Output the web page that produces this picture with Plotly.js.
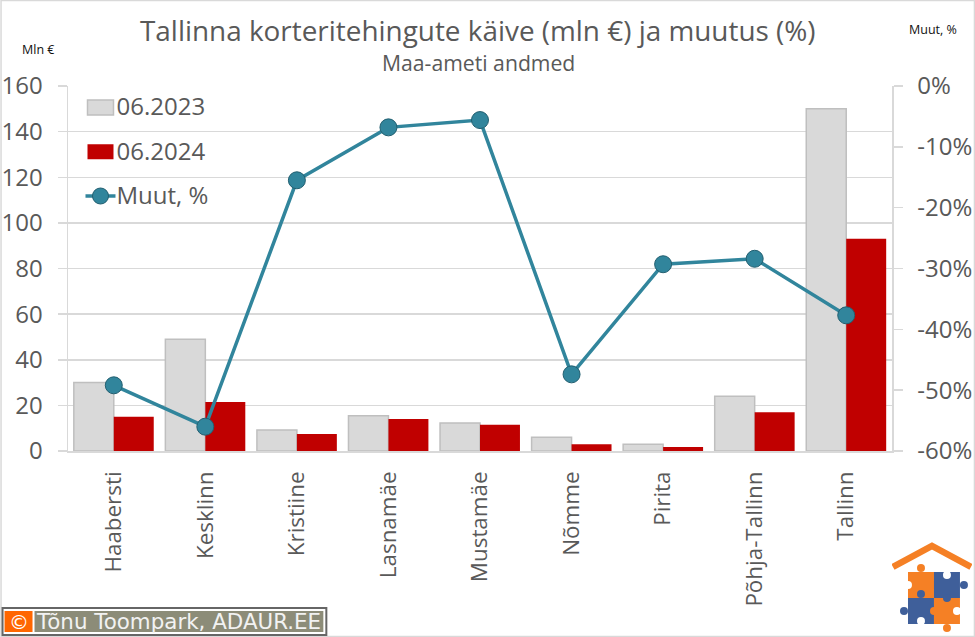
<!DOCTYPE html>
<html><head><meta charset="utf-8">
<script src="https://cdn.plot.ly/plotly-3.0.1.min.js"></script>
<style>html,body{margin:0;padding:0;background:#fff}#c{width:975px;height:637px}</style></head>
<body><div id="c"></div>
<script>
const categories = ["Haabersti","Kesklinn","Kristiine","Lasnamäe","Mustamäe","Nõmme","Pirita","Põhja-Tallinn","Tallinn"];
const turnover2023 = [30,49,9.2,15.5,12.3,6,3,24,150];
const turnover2024 = [15,21.5,7.5,14,11.5,3,1.8,17,93];
const changePct = [-49.2,-56,-15.5,-6.8,-5.6,-47.4,-29.3,-28.4,-37.7];
const leftTicks = [0,20,40,60,80,100,120,140,160];
const rightTicks = [0,-10,-20,-30,-40,-50,-60];
const rightTickLabels = ["0%","-10%","-20%","-30%","-40%","-50%","-60%"];

const TXT="#595959", GRID="#D9D9D9", TEAL="#31859C";
const FONT='"Open Sans", "Noto Sans", sans-serif';
const L=67.5,R=892,T=86,B=451;
const px=(x)=>(x-L)/(R-L), py=(y)=>(B-y)/(B-T);
const note=(x,y,text,size,color,family)=>({xref:"paper",yref:"paper",x:px(x),y:py(y),xanchor:"center",yanchor:"middle",text,showarrow:false,font:{size,color,family:family||FONT}});

const logoSvg=`<svg xmlns="http://www.w3.org/2000/svg" width="80" height="95" viewBox="0 0 80 95">
<path d="M1 25 L40 4 L79 25" fill="none" stroke="#F58025" stroke-width="6.5"/>
<rect x="16" y="30" width="26" height="26" fill="#F58025"/><circle cx="29" cy="26" r="4" fill="#F58025"/><circle cx="42" cy="43" r="4" fill="#F58025"/><circle cx="16" cy="43" r="4" fill="#fff"/>
<rect x="42" y="30" width="26" height="26" fill="#3F5F9A"/><circle cx="72" cy="43" r="4" fill="#3F5F9A"/><circle cx="55" cy="33" r="4" fill="#fff"/>
<rect x="16" y="56" width="26" height="26" fill="#3F5F9A"/><circle cx="12" cy="69" r="4" fill="#3F5F9A"/><circle cx="29" cy="52" r="4" fill="#3F5F9A"/><circle cx="29" cy="79" r="4" fill="#fff"/>
<rect x="42" y="56" width="26" height="26" fill="#F58025"/><circle cx="55" cy="86" r="4" fill="#F58025"/><circle cx="42" cy="69" r="4" fill="#F58025"/><circle cx="55" cy="56" r="4" fill="#3F5F9A"/><circle cx="65" cy="69" r="4" fill="#fff"/>
</svg>`;

const traces=[
 {type:"bar",name:"06.2023",x:categories,y:turnover2023,marker:{color:"#D9D9D9",line:{color:"#BFBFBF",width:1.5}},legendgroup:"a"},
 {type:"bar",name:"06.2024",x:categories,y:turnover2024,marker:{color:"#C00000"},legendgroup:"b"},
 {type:"scatter",mode:"lines+markers",name:"Muut, %",x:categories,y:changePct,yaxis:"y2",legendgroup:"c",
  line:{color:TEAL,width:3.5},marker:{color:TEAL,size:17,line:{color:"#235F70",width:1}}}
];
const layout={
 width:975,height:637,paper_bgcolor:"#fff",plot_bgcolor:"#fff",
 margin:{l:L,r:975-R,t:T,b:637-B},
 font:{family:FONT,color:TXT},
 barmode:"group",bargap:0.127,bargroupgap:0,
 showlegend:true,
 legend:{x:px(76),y:py(84),xanchor:"left",yanchor:"top",bgcolor:"rgba(0,0,0,0)",font:{size:24,color:TXT},tracegroupgap:10,itemwidth:30,traceorder:"grouped"},
 xaxis:{type:"category",range:[-0.5,8.5],categoryorder:"array",categoryarray:categories,tickangle:-90,tickfont:{size:22.4,color:TXT},ticks:"",ticklabelstandoff:10,showline:true,linecolor:GRID,linewidth:1.5,showgrid:false,automargin:false},
 yaxis:{range:[0,160],tickvals:leftTicks,tickfont:{size:24,color:TXT},ticklabelstandoff:10,gridcolor:GRID,gridwidth:1.5,showline:true,linecolor:GRID,linewidth:1.5,ticks:"outside",ticklen:9,tickcolor:GRID,tickwidth:1.5,zeroline:false,automargin:false},
 yaxis2:{overlaying:"y",side:"right",range:[-60,0],tickvals:rightTicks,ticktext:rightTickLabels,tickfont:{size:24,color:TXT},ticklabelstandoff:10,showgrid:false,showline:true,linecolor:GRID,linewidth:1.5,ticks:"outside",ticklen:9,tickcolor:GRID,tickwidth:1.5,zeroline:false,automargin:false},
 annotations:[
  note(478,30,"Tallinna korteritehingute käive (mln €) ja muutus (%)",27.9,TXT),
  note(478,63,"Maa-ameti andmed",21.2,TXT),
  note(37,49,"Mln €",12.5,"#111"),
  note(933,30,"Muut, %",12.5,"#111"),
  note(18,621.5,"©",20,"#fff","DejaVu Sans"),
  note(178,621.5,"Tõnu Toompark, ADAUR.EE",21.4,"#F2F2F2","DejaVu Sans")
 ],
 shapes:[
  {type:"rect",xref:"paper",yref:"paper",x0:px(0.5),x1:px(974.5),y0:py(0.5),y1:py(636.5),line:{color:"#D9D9D9",width:1.5},layer:"below"},
  {type:"rect",xref:"paper",yref:"paper",x0:px(2),x1:px(326),y0:py(608),y1:py(635),line:{color:"#666",width:2},fillcolor:"#fff",layer:"below"},
  {type:"rect",xref:"paper",yref:"paper",x0:px(4),x1:px(32),y0:py(611),y1:py(632),line:{width:0},fillcolor:"#FF6600",layer:"below"},
  {type:"rect",xref:"paper",yref:"paper",x0:px(34),x1:px(323),y0:py(611),y1:py(632),line:{width:0},fillcolor:"#8C8C78",layer:"below"}
 ],
 images:[{source:"data:image/svg+xml;utf8,"+encodeURIComponent(logoSvg),xref:"paper",yref:"paper",x:px(892),y:py(542),sizex:80/(R-L),sizey:95/(B-T),xanchor:"left",yanchor:"top",sizing:"stretch",layer:"above"}]
};
Plotly.newPlot("c",traces,layout,{displayModeBar:false,staticPlot:true}).then(()=>{
  // widen the two bar swatches of the legend to the reference's 26x15 proportion, and nudge all keys right
  document.querySelectorAll(".legend .traces").forEach((t,i)=>{
    if(i<2){const p=t.querySelector(".legendpoints path"); if(p) p.setAttribute("d","M13,7.5H-13V-7.5H13Z");}
    t.querySelectorAll(".legendlines, .legendsymbols").forEach(g=>g.setAttribute("transform","translate(4,1.5)"));
  });
});
</script></body></html>
